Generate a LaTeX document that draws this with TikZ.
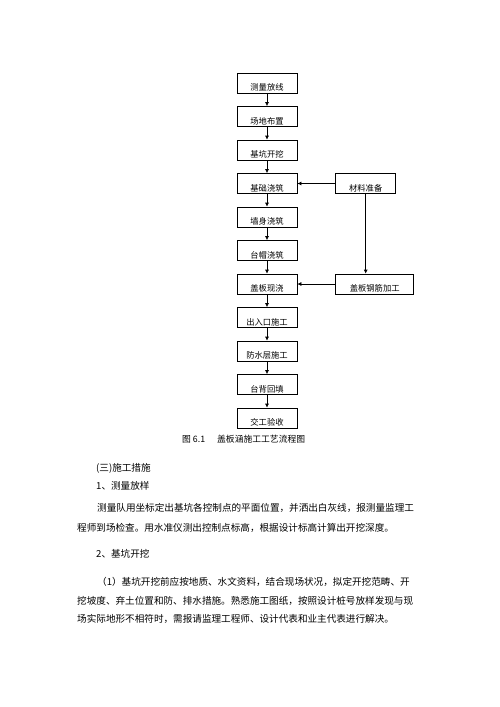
\documentclass[tikz,border=0pt]{standalone}
\usepackage{fontspec}
\setmainfont{Noto Sans CJK SC}
\XeTeXlinebreaklocale "zh"
\XeTeXlinebreakskip=0pt plus 1pt
\usetikzlibrary{positioning,arrows.meta}
\newcommand{\tw}{346pt}
\tikzset{
  stepbox/.style={draw,line width=0.7pt,minimum width=60pt,minimum height=20pt,
    inner sep=0pt,text height=15pt,text depth=0pt,
    font=\fontsize{8.3pt}{8.3pt}\selectfont},
  flow/.style={-{Latex[length=4pt,width=4pt]},line width=0.7pt},
  txt/.style={anchor=west,inner sep=0pt,font=\fontsize{9.6pt}{9.6pt}\selectfont}
}

\begin{document}
\begin{tikzpicture}[node distance=12.8pt]
\useasboundingbox (0,0) rectangle (500pt,-707pt);
% main column
\node[stepbox] (s1) at (267pt,-83pt) {测量放线};
\node[stepbox,below=of s1] (s2) {场地布置};
\node[stepbox,below=of s2] (s3) {基坑开挖};
\node[stepbox,below=of s3] (s4) {基础浇筑};
\node[stepbox,below=of s4] (s5) {墙身浇筑};
\node[stepbox,below=of s5] (s6) {台帽浇筑};
\node[stepbox,below=of s6] (s7) {盖板现浇};
\node[stepbox,below=of s7] (s8) {出入口施工};
\node[stepbox,below=of s8] (s9) {防水层施工};
\node[stepbox,below=of s9] (s10) {台背回填};
\node[stepbox,below=of s10] (s11) {交工验收};
% side column
\node[stepbox,right=38pt of s4] (mat) {材料准备};
\node[stepbox,minimum width=78pt,right=38pt of s7] (rebar) {盖板钢筋加工};
\foreach \i [evaluate=\i as \j using int(\i+1)] in {1,...,10}
  \draw[flow] (s\i.south) -- (s\j.north);
\draw[flow] (mat.west) -- (s4.east);
\draw[flow] (mat.south) -- (mat.south |- rebar.north);
\draw[flow] (rebar.west) -- (s7.east);
% caption and text
\node[txt,font=\fontsize{8.8pt}{8.8pt}\selectfont] (cap) at (182pt,-439pt) {图 6.1\hspace{12pt}盖板涵施工工艺流程图};
\node[txt] (h1) at (96pt,-468pt) {(三)施工措施};
\node[txt] (h2) at (96pt,-486pt) {1、测量放样};
\node[txt] (p1a) at (97pt,-508pt) {\makebox[326pt][s]{测量队用坐标定出基坑各控制点的平面位置，并洒出白灰线，报测量监理工}};
\node[txt] (p1b) at (77pt,-528pt) {程师到场检查。用水准仪测出控制点标高，根据设计标高计算出开挖深度。};
\node[txt] (h3) at (96pt,-554pt) {2、基坑开挖};
\node[txt] (p2a) at (97pt,-582pt) {\makebox[325pt][s]{（1）基坑开挖前应按地质、水文资料，结合现场状况，拟定开挖范畴、开}};
\node[txt] (p2b) at (77pt,-601pt) {\makebox[\tw][s]{挖坡度、弃土位置和防、排水措施。熟悉施工图纸，按照设计桩号放样发现与现}};
\node[txt] (p2c) at (77pt,-619pt) {场实际地形不相符时，需报请监理工程师、设计代表和业主代表进行解决。};
\end{tikzpicture}
\end{document}
